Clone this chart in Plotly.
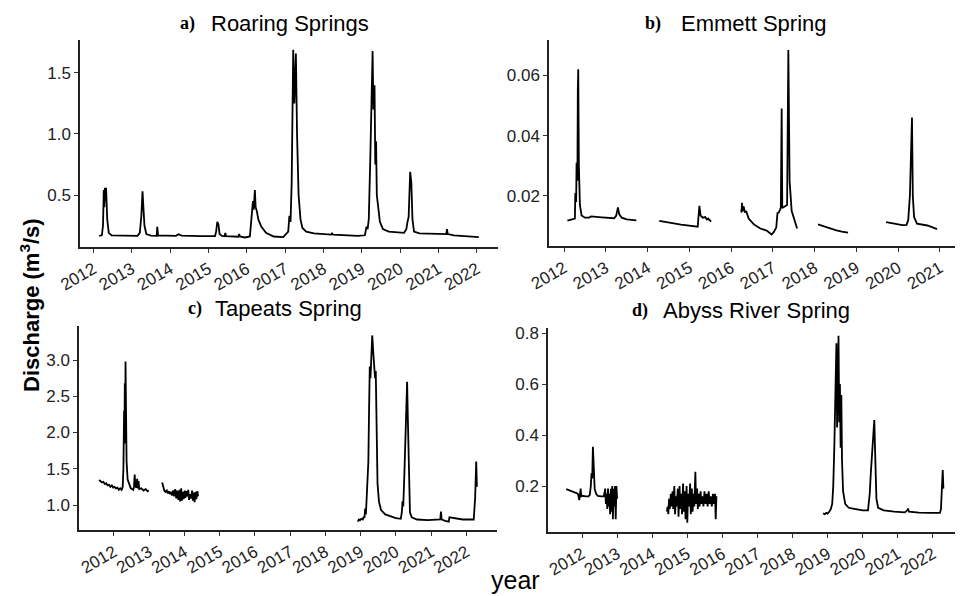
import plotly.graph_objects as go

# ---- Discharge records (decimal year, m3/s); None marks a gap in the record ----
roaring_year = [2012.15, 2012.22, 2012.25, 2012.27, 2012.285, 2012.30, 2012.315, 2012.33, 2012.36, 2012.40,
                2012.47, 2012.8, 2013.15, 2013.21, 2013.25, 2013.28, 2013.30, 2013.33, 2013.38, 2013.5,
                2013.65, 2013.665, 2013.685, 2013.9, 2014.15, 2014.22, 2014.3, 2014.8, 2015.17, 2015.2,
                2015.23, 2015.26, 2015.29, 2015.35, 2015.42, 2015.44, 2015.46, 2015.78, 2015.80, 2015.82,
                2015.95, 2016.08, 2016.12, 2016.16, 2016.18, 2016.21, 2016.23, 2016.26, 2016.3, 2016.38,
                2016.5, 2016.7, 2016.95, 2017.08, 2017.11, 2017.14, 2017.17, 2017.21, 2017.24, 2017.26,
                2017.28, 2017.31, 2017.35, 2017.40, 2017.45, 2017.55, 2017.75, 2018.2, 2018.22, 2018.25,
                2018.9, 2019.08, 2019.12, 2019.15, 2019.18, 2019.22, 2019.26, 2019.28, 2019.3, 2019.33,
                2019.35, 2019.37, 2019.39, 2019.42, 2019.47, 2019.55, 2019.7, 2020.1, 2020.16, 2020.19,
                2020.22, 2020.26, 2020.29, 2020.32, 2020.36, 2020.5, 2021.15, 2021.2, 2021.22, 2021.24,
                2021.4, 2022.05]
roaring_q = [0.165, 0.17, 0.25, 0.54, 0.40, 0.56, 0.45, 0.56, 0.30, 0.19,
             0.17, 0.165, 0.165, 0.19, 0.33, 0.53, 0.40, 0.25, 0.18, 0.168,
             0.165, 0.24, 0.17, 0.165, 0.165, 0.178, 0.168, 0.163, 0.163, 0.20,
             0.28, 0.26, 0.18, 0.165, 0.162, 0.19, 0.163, 0.158, 0.18, 0.16,
             0.152, 0.16, 0.30, 0.45, 0.38, 0.54, 0.40, 0.37, 0.30, 0.24,
             0.19, 0.16, 0.155, 0.20, 0.33, 0.28, 0.60, 1.69, 1.25, 1.50,
             1.66, 1.00, 0.50, 0.30, 0.23, 0.20, 0.185, 0.175, 0.185, 0.175,
             0.165, 0.17, 0.24, 0.22, 0.30, 0.80, 1.55, 1.68, 1.20, 1.40,
             0.75, 0.94, 0.50, 0.40, 0.28, 0.22, 0.20, 0.19, 0.22, 0.28,
             0.32, 0.69, 0.60, 0.30, 0.20, 0.185, 0.175, 0.18, 0.22, 0.18,
             0.17, 0.155]

emmett_year = [2012.08, 2012.2, 2012.26, 2012.27, 2012.29, 2012.30, 2012.32, 2012.33, 2012.34, 2012.355,
               2012.38, 2012.42, 2012.5, 2012.6, 2012.65, 2012.9, 2013.1, 2013.2, 2013.25, 2013.29,
               2013.32, 2013.38, 2013.5, 2013.73, None,
               2014.28, 2014.5, 2014.8, 2015.2, 2015.22, 2015.24, 2015.27, 2015.32, 2015.38, 2015.42,
               2015.45, 2015.52, None,
               2016.24, 2016.25, 2016.26, 2016.28, 2016.30, 2016.33, 2016.36, 2016.42, 2016.55, 2016.7,
               2016.85, 2016.97, 2017.02, 2017.08, 2017.11, 2017.14, 2017.19, 2017.21, 2017.225, 2017.34,
               2017.37, 2017.40, 2017.45, 2017.52, 2017.58, None,
               2018.08, 2018.3, 2018.5, 2018.65, 2018.8, None,
               2019.71, 2019.9, 2020.1, 2020.2, 2020.24, 2020.28, 2020.30, 2020.33, 2020.35, 2020.38,
               2020.45, 2020.7, 2020.93]
emmett_q = [0.0118, 0.0122, 0.0125, 0.021, 0.018, 0.031, 0.025, 0.055, 0.062, 0.030,
            0.017, 0.0135, 0.0128, 0.0128, 0.0132, 0.0129, 0.0127, 0.0126, 0.0135, 0.0162,
            0.0140, 0.0128, 0.0122, 0.0119, None,
            0.0117, 0.0111, 0.0105, 0.0098, 0.0125, 0.0167, 0.0135, 0.0128, 0.0130, 0.0122,
            0.0125, 0.0115, None,
            0.0155, 0.0145, 0.0177, 0.0150, 0.0165, 0.0145, 0.0150, 0.0125, 0.0105, 0.0092,
            0.0085, 0.0072, 0.0080, 0.0095, 0.0143, 0.0145, 0.0160, 0.049, 0.0160, 0.0170,
            0.0684, 0.025, 0.0150, 0.0115, 0.0092, None,
            0.0106, 0.0095, 0.0087, 0.0082, 0.0078, None,
            0.0113, 0.0108, 0.0103, 0.0104, 0.0120, 0.020, 0.028, 0.046, 0.020, 0.013,
            0.0108, 0.0102, 0.0090]

tapeats_year = [2011.58, 2011.62, 2011.66, 2011.70, 2011.74, 2011.78, 2011.82, 2011.86, 2011.90, 2011.94,
                2011.98, 2012.02, 2012.06, 2012.10, 2012.14, 2012.18, 2012.22, 2012.25, 2012.27, 2012.29,
                2012.30, 2012.31, 2012.32, 2012.33, 2012.345, 2012.36, 2012.39, 2012.43, 2012.48, 2012.55,
                2012.57, 2012.59, 2012.61, 2012.64, 2012.66, 2012.68, 2012.70, 2012.72, 2012.78, 2012.84,
                2012.90, 2012.96, 2012.99, None,
                2013.37, 2013.40, 2013.43, 2013.46, 2013.50, 2013.53, 2013.56, 2013.59, 2013.62, 2013.65,
                2013.68, 2013.71, 2013.74, 2013.77, 2013.80, 2013.83, 2013.86, 2013.88, 2013.91, 2013.93,
                2013.96, 2013.98, 2014.01, 2014.03, 2014.06, 2014.08, 2014.11, 2014.13, 2014.16, 2014.19,
                2014.22, 2014.24, 2014.27, 2014.29, 2014.32, 2014.34, 2014.37, 2014.39, None,
                2018.92, 2018.95, 2018.98, 2019.02, 2019.06, 2019.09, 2019.11, 2019.13, 2019.15, 2019.17,
                2019.19, 2019.22, 2019.24, 2019.26, 2019.28, 2019.30, 2019.33, 2019.36, 2019.39, 2019.41,
                2019.43, 2019.45, 2019.48, 2019.52, 2019.58, 2019.7, 2019.85, 2020.0, 2020.14, 2020.17,
                2020.19, 2020.21, 2020.24, 2020.27, 2020.30, 2020.32, 2020.34, 2020.37, 2020.40, 2020.45,
                2020.6, 2020.9, 2021.2, 2021.26, 2021.28, 2021.30, 2021.4, 2021.5, 2021.52, 2021.7,
                2021.9, 2022.15, 2022.21, 2022.25, 2022.28, 2022.30]
tapeats_q = [1.345, 1.33, 1.31, 1.32, 1.29, 1.30, 1.27, 1.28, 1.25, 1.27,
             1.24, 1.25, 1.23, 1.24, 1.21, 1.23, 1.21, 1.25, 1.50, 2.30,
             2.00, 2.68, 1.85, 2.98, 2.30, 1.60, 1.35, 1.28, 1.23, 1.21,
             1.25, 1.42, 1.26, 1.24, 1.36, 1.23, 1.33, 1.22, 1.23, 1.20,
             1.22, 1.19, 1.20, None,
             1.31, 1.25, 1.20, 1.18, 1.20, 1.16, 1.19, 1.15, 1.18, 1.13,
             1.20, 1.12, 1.22, 1.09, 1.20, 1.07, 1.21, 1.05, 1.23, 1.06,
             1.18, 1.08, 1.20, 1.10, 1.19, 1.12, 1.21, 1.07, 1.15, 1.09,
             1.20, 1.06, 1.17, 1.04, 1.18, 1.08, 1.19, 1.12, None,
             0.77, 0.80, 0.79, 0.81, 0.80, 0.84, 0.82, 0.95, 0.87, 1.07,
             1.10, 1.60, 2.30, 2.91, 2.75, 3.10, 3.34, 3.10, 2.90, 2.75,
             2.85, 2.00, 1.30, 1.05, 0.93, 0.87, 0.84, 0.82, 0.81, 0.90,
             1.05, 0.98, 1.40, 2.00, 2.50, 2.70, 2.20, 1.20, 0.90, 0.83,
             0.80, 0.79, 0.79, 0.80, 0.91, 0.80, 0.78, 0.77, 0.83, 0.82,
             0.80, 0.80, 0.80, 1.10, 1.60, 1.25]

abyss_year = [2011.55, 2011.6, 2011.65, 2011.7, 2011.75, 2011.8, 2011.85, 2011.88, 2011.90, 2011.92,
              2011.94, 2011.96, 2011.98, 2012.02, 2012.1, 2012.18, 2012.22, 2012.25, 2012.27, 2012.29,
              2012.31, 2012.33, 2012.36, 2012.40, 2012.45, 2012.55, 2012.62, 2012.66, 2012.68, 2012.70,
              2012.72, 2012.74, 2012.76, 2012.78, 2012.80, 2012.82, 2012.84, 2012.86, 2012.88, 2012.90,
              2012.92, 2012.94, 2012.96, 2012.98, 2013.0, None,
              2014.42, 2014.44, 2014.46, 2014.48, 2014.50, 2014.53, 2014.55, 2014.58, 2014.60, 2014.63,
              2014.65, 2014.68, 2014.70, 2014.73, 2014.75, 2014.78, 2014.80, 2014.83, 2014.85, 2014.88,
              2014.90, 2014.93, 2014.95, 2014.98, 2015.00, 2015.02, 2015.05, 2015.08, 2015.10, 2015.13,
              2015.15, 2015.18, 2015.20, 2015.23, 2015.25, 2015.28, 2015.30, 2015.33, 2015.35, 2015.38,
              2015.40, 2015.43, 2015.46, 2015.49, 2015.52, 2015.55, 2015.58, 2015.61, 2015.64, 2015.67,
              2015.70, 2015.73, 2015.76, 2015.79, 2015.81, 2015.83, None,
              2018.87, 2018.92, 2018.96, 2019.0, 2019.05, 2019.09, 2019.13, 2019.16, 2019.19, 2019.22,
              2019.25, 2019.27, 2019.29, 2019.31, 2019.33, 2019.35, 2019.37, 2019.39, 2019.41, 2019.44,
              2019.5, 2019.6, 2019.8, 2020.0, 2020.15, 2020.18, 2020.2, 2020.23, 2020.26, 2020.30,
              2020.33, 2020.36, 2020.39, 2020.44, 2020.6, 2020.9, 2021.2, 2021.27, 2021.29, 2021.32,
              2021.6, 2021.9, 2022.2, 2022.23, 2022.26, 2022.28, 2022.30]
abyss_q = [0.188, 0.185, 0.183, 0.180, 0.178, 0.175, 0.172, 0.170, 0.160, 0.145,
           0.165, 0.190, 0.160, 0.162, 0.160, 0.160, 0.165, 0.200, 0.250, 0.230,
           0.354, 0.250, 0.190, 0.170, 0.162, 0.160, 0.160, 0.190, 0.130, 0.170,
           0.110, 0.190, 0.120, 0.170, 0.090, 0.190, 0.100, 0.200, 0.070, 0.190,
           0.120, 0.200, 0.070, 0.200, 0.150, None,
           0.10, 0.12, 0.09, 0.15, 0.11, 0.17, 0.12, 0.18, 0.11, 0.20,
           0.09, 0.16, 0.12, 0.19, 0.08, 0.20, 0.11, 0.17, 0.09, 0.21,
           0.10, 0.18, 0.07, 0.20, 0.056, 0.17, 0.12, 0.21, 0.09, 0.19,
           0.10, 0.17, 0.12, 0.256, 0.13, 0.19, 0.11, 0.17, 0.12, 0.18,
           0.13, 0.16, 0.12, 0.18, 0.13, 0.17, 0.12, 0.18, 0.13, 0.16,
           0.12, 0.17, 0.13, 0.17, 0.07, 0.16, None,
           0.093, 0.090, 0.095, 0.092, 0.100, 0.110, 0.130, 0.200, 0.350, 0.600,
           0.760, 0.430, 0.780, 0.790, 0.450, 0.600, 0.350, 0.557, 0.300, 0.180,
           0.130, 0.115, 0.110, 0.105, 0.105, 0.150, 0.170, 0.250, 0.330, 0.420,
           0.459, 0.300, 0.150, 0.115, 0.105, 0.100, 0.097, 0.105, 0.112, 0.100,
           0.096, 0.095, 0.095, 0.110, 0.200, 0.263, 0.190]

panel_letters = ["a)", "b)", "c)", "d)"]
panel_names = ["Roaring Springs", "Emmett Spring", "Tapeats Spring", "Abyss River Spring"]
series = [(roaring_year, roaring_q), (emmett_year, emmett_q),
          (tapeats_year, tapeats_q), (abyss_year, abyss_q)]

# ---- layout geometry (pixels in a 962 x 596 canvas) ----
W, H = 962, 596
panels = [
    dict(px=(80, 498), py=(40, 247), xr=(2011.65, 2022.55), yr=(0.074, 1.77),
         yt=[0.5, 1.0, 1.5], yf=".1f", ylast=2022),
    dict(px=(549, 955), py=(40, 246), xr=(2011.64, 2021.36), yr=(0.0034, 0.0717),
         yt=[0.02, 0.04, 0.06], yf=".2f", ylast=2021),
    dict(px=(79, 497), py=(326, 530), xr=(2011.01, 2022.87), yr=(0.655, 3.47),
         yt=[1.0, 1.5, 2.0, 2.5, 3.0], yf=".1f", ylast=2022),
    dict(px=(548, 955), py=(328, 532), xr=(2011.03, 2022.63), yr=(0.02, 0.82),
         yt=[0.2, 0.4, 0.6, 0.8], yf=".1f", ylast=2022),
]

TICK_COLOR = "#222222"
SANS = "Liberation Sans, Arial, sans-serif"
SERIF = "Liberation Serif, Times New Roman, serif"

fig = go.Figure()
layout = dict(width=W, height=H, margin=dict(l=0, r=0, t=0, b=0, autoexpand=False),
              template="none",
              paper_bgcolor="white", plot_bgcolor="white", showlegend=False,
              font=dict(family=SANS, color=TICK_COLOR))

for i, (p, (xs, ys)) in enumerate(zip(panels, series)):
    n = "" if i == 0 else str(i + 1)
    fig.add_trace(go.Scatter(x=xs, y=ys, mode="lines", connectgaps=False,
                             line=dict(color="black", width=1.8),
                             xaxis="x" + n, yaxis="y" + n, hoverinfo="skip"))
    years = list(range(2012, p["ylast"] + 1))
    layout["xaxis" + n] = dict(
        domain=[p["px"][0] / W, p["px"][1] / W], anchor="y" + n, automargin=False,
        range=list(p["xr"]), tickvals=years, ticktext=[str(y) for y in years],
        tickangle=-30, ticks="outside", ticklen=4, tickwidth=1, tickcolor="#333333",
        showline=True, linecolor="#222222", linewidth=1.5, showgrid=False, zeroline=False,
        tickfont=dict(size=17, color=TICK_COLOR, family=SANS),
    )
    layout["yaxis" + n] = dict(
        domain=[1 - p["py"][1] / H, 1 - p["py"][0] / H], anchor="x" + n, automargin=False,
        range=list(p["yr"]), tickvals=p["yt"], tickformat=p["yf"],
        ticks="outside", ticklen=4, tickwidth=1, tickcolor="#333333",
        showline=True, linecolor="#222222", linewidth=1.5, showgrid=False, zeroline=False,
        tickfont=dict(size=17, color=TICK_COLOR, family=SANS),
    )

# panel titles: bold serif letter followed by the spring name
title_pos = [(197, 209, 23), (663, 679, 23), (204, 213, 309), (650, 661, 310)]
annotations = []
for (xl, xn, yc), letter, name in zip(title_pos, panel_letters, panel_names):
    annotations.append(dict(x=xl / W, y=1 - yc / H, xref="paper", yref="paper",
                            text="<b>" + letter + "</b>", showarrow=False,
                            xanchor="right", yanchor="middle",
                            font=dict(family=SERIF, size=18, color="black")))
    annotations.append(dict(x=xn / W, y=1 - yc / H, xref="paper", yref="paper",
                            text=name, showarrow=False,
                            xanchor="left", yanchor="middle",
                            font=dict(family=SANS, size=22, color="black")))

# shared axis titles
annotations.append(dict(x=30 / W, y=1 - 305 / H, xref="paper", yref="paper",
                        text="<b>Discharge (m<sup>3</sup>/s)</b>", showarrow=False,
                        textangle=-90, xanchor="center", yanchor="middle",
                        font=dict(family=SANS, size=22, color="black")))
annotations.append(dict(x=515 / W, y=1 - 580 / H, xref="paper", yref="paper",
                        text="year", showarrow=False, xanchor="center", yanchor="middle",
                        font=dict(family=SANS, size=25, color="black")))
layout["annotations"] = annotations

fig.update_layout(**layout)
fig.write_html("out.html")
